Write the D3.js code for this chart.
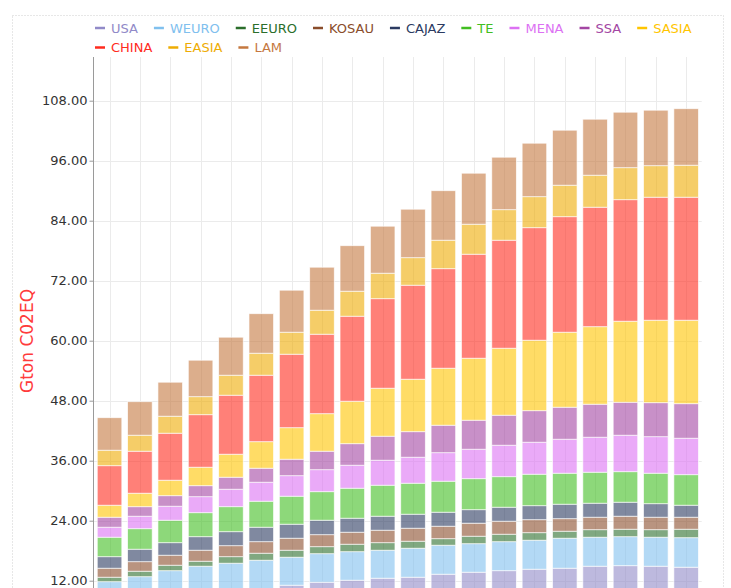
<!DOCTYPE html>
<html>
<head>
<meta charset="utf-8">
<script src="https://cdn.jsdelivr.net/npm/d3@7/dist/d3.min.js"></script>
<style>
  html, body { margin: 0; padding: 0; background: #fff; overflow: hidden; }
  svg { display: block; font-family: "DejaVu Sans", Verdana, sans-serif; }
</style>
</head>
<body>
<svg id="chart" width="731" height="588"></svg>
<script>
// ---- data ----
const categories = ["2010","2015","2020","2025","2030","2035","2040","2045","2050","2055",
                    "2060","2065","2070","2075","2080","2085","2090","2095","2100","2105"];
const seriesNames = ["USA","WEURO","EEURO","KOSAU","CAJAZ","TE","MENA","SSA","SASIA","CHINA","EASIA","LAM"];
const seriesColors = ["#918ac8","#80c0ee","#2b6e2b","#8a4d2b","#2b3a61","#41be21",
                      "#dc71f3","#a346a3","#ffc500","#ff2b1e","#eeac03","#c5783f"];
const USA   = [7.0,7.8,8.5,9.2,9.8,10.4,11.1,11.7,12.1,12.5,12.7,13.3,13.7,14.0,14.3,14.5,14.9,15.0,14.9,14.7];
const WEURO = [4.8,5.0,5.5,5.7,5.7,5.7,5.6,5.7,5.7,5.6,5.8,5.8,5.7,5.8,5.8,6.0,5.8,5.8,5.8,5.9];
const EEURO = [0.9,1.1,1.1,1.0,1.3,1.4,1.4,1.4,1.5,1.5,1.4,1.3,1.5,1.5,1.5,1.4,1.5,1.5,1.5,1.7];
const KOSAU = [1.8,1.9,2.0,2.2,2.2,2.3,2.4,2.4,2.4,2.5,2.6,2.5,2.6,2.6,2.6,2.5,2.5,2.6,2.5,2.4];
const CAJAZ = [2.3,2.5,2.5,2.7,2.8,2.9,2.8,2.9,2.8,2.8,2.8,2.8,2.7,2.8,2.8,2.9,2.8,2.8,2.7,2.4];
const TE    = [3.9,4.1,4.5,4.8,5.0,5.2,5.6,5.7,6.0,6.2,6.2,6.2,6.2,6.1,6.3,6.2,6.2,6.1,6.1,6.1];
const MENA  = [2.0,2.5,2.8,3.2,3.5,3.8,4.1,4.4,4.6,5.0,5.2,5.7,5.9,6.3,6.4,6.8,7.0,7.3,7.3,7.3];
const SSA   = [2.0,1.9,2.1,2.2,2.4,2.8,3.3,3.7,4.3,4.8,5.1,5.5,5.8,6.0,6.3,6.4,6.6,6.6,6.8,6.9];
const SASIA = [2.4,2.7,3.1,3.7,4.6,5.3,6.3,7.5,8.5,9.6,10.5,11.4,12.4,13.4,14.1,15.0,15.5,16.2,16.5,16.7];
const CHINA = [7.9,8.4,9.4,10.5,11.8,13.3,14.7,15.9,17.0,17.9,18.8,19.9,20.8,21.6,22.5,23.1,23.9,24.3,24.6,24.6];
const EASIA = [3.1,3.2,3.4,3.6,4.0,4.4,4.4,4.8,5.0,5.1,5.5,5.7,6.0,6.1,6.2,6.3,6.4,6.4,6.3,6.4];
const LAM   = [6.5,6.7,6.8,7.3,7.6,7.9,8.4,8.6,9.1,9.4,9.7,9.9,10.2,10.5,10.7,11.0,11.2,11.1,11.1,11.3];
const yTicks = [0,12,24,36,48,60,72,84,96,108];
const yTitle = "Gton C02EQ";

const seriesValues = [USA,WEURO,EEURO,KOSAU,CAJAZ,TE,MENA,SSA,SASIA,CHINA,EASIA,LAM];
const table = categories.map((c,i) => {
  const row = {cat: c};
  seriesNames.forEach((s,k) => row[s] = seriesValues[k][i]);
  return row;
});

// ---- layout ----
const svg = d3.select("#chart");
const plotLeft = 93, plotRight = 702.7, plotTop = 57;
const y = d3.scaleLinear().domain([0,108]).range([640.7,100.7]);
const x = d3.scaleBand().domain(categories).range([plotLeft, plotRight])
  .paddingInner(0.19).paddingOuter(0.14);
const color = d3.scaleOrdinal().domain(seriesNames).range(seriesColors);
const plotBottom = y(0);

// dotted frame
svg.append("rect").attr("x",12.5).attr("y",15.5).attr("width",711).attr("height",700)
  .attr("fill","none").attr("stroke","#cfcfcf").attr("stroke-dasharray","1,2");

// grid
const grid = svg.append("g");
grid.selectAll("line.h").data(yTicks).join("line")
  .attr("x1",plotLeft).attr("x2",plotRight-1)
  .attr("y1",d=>Math.round(y(d))+0.5).attr("y2",d=>Math.round(y(d))+0.5)
  .attr("stroke","#ebebeb");
grid.selectAll("line.v").data(categories).join("line")
  .attr("x1",d=>Math.round(x(d)+x.bandwidth()/2)+0.5).attr("x2",d=>Math.round(x(d)+x.bandwidth()/2)+0.5)
  .attr("y1",plotTop).attr("y2",plotBottom)
  .attr("stroke","#ebebeb");

// bars
const stack = d3.stack().keys(seriesNames)(table);
svg.append("g").selectAll("g").data(stack).join("g")
  .attr("fill",d=>color(d.key))
  .selectAll("rect").data(d=>d).join("rect")
  .attr("x",d=>x(d.data.cat))
  .attr("width",x.bandwidth())
  .attr("y",d=>y(d[1]))
  .attr("height",d=>y(d[0])-y(d[1]))
  .attr("fill-opacity",0.6)
  .attr("stroke","#fff").attr("stroke-width",0.8).attr("stroke-opacity",0.8);

// y axis
const yAxis = svg.append("g").attr("transform",`translate(${plotLeft+0.5},0)`)
  .call(d3.axisLeft(y).tickValues(yTicks).tickFormat(d3.format(".2f")).tickSizeInner(4).tickSizeOuter(0).tickPadding(2));
yAxis.select(".domain").attr("stroke","#9a9a9a").attr("d",`M0,${plotTop}V${plotBottom}`);
yAxis.selectAll(".tick line").attr("stroke","#9a9a9a");
yAxis.selectAll(".tick text").attr("fill","#333").style("font-size","13px")
  .style("font-family","'DejaVu Sans', Verdana, sans-serif");

// y title
svg.append("text").attr("transform","translate(33,341) rotate(-90)")
  .attr("text-anchor","middle").attr("fill","#ff3b3b").style("font-size","17px")
  .text(yTitle);

// legend
const legend = svg.append("g");
let lx = 95, ly = 28;
const maxX = 700;
seriesNames.forEach((s,i) => {
  const g = legend.append("g");
  g.append("line").attr("x1",0).attr("x2",10).attr("y1",0).attr("y2",0)
    .attr("stroke",color(s)).attr("stroke-width",2.5);
  const t = g.append("text").attr("x",16).attr("y",0).attr("dy","0.35em")
    .attr("fill",color(s)).style("font-size","13px").text(s);
  const w = 16 + t.node().getComputedTextLength();
  if (lx + w > maxX) { lx = 95; ly += 19.5; }
  g.attr("transform",`translate(${lx},${ly})`);
  lx += w + 16;
});
</script>
</body>
</html>
